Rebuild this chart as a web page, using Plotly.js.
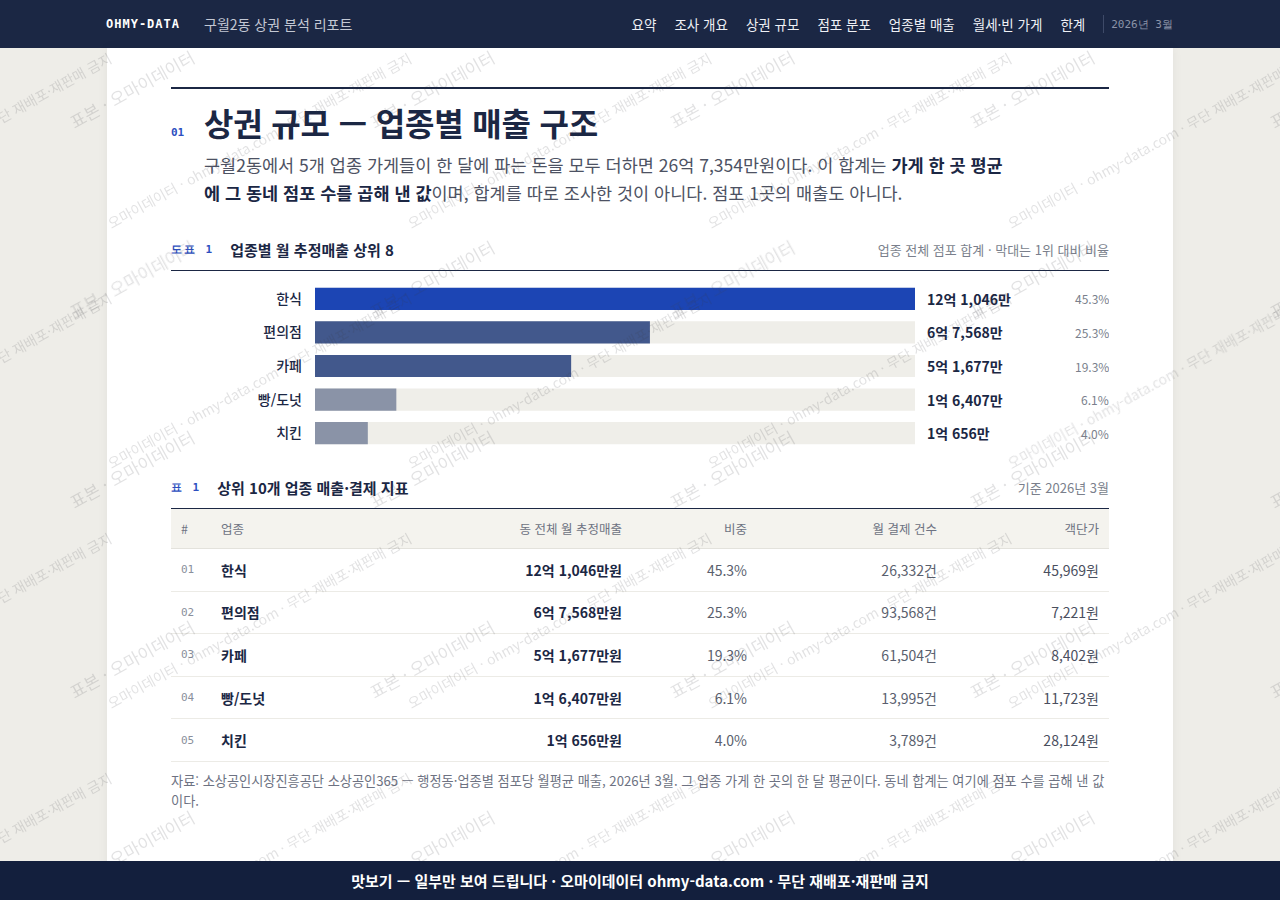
<!DOCTYPE html>
<html lang="ko">
<head>
<meta charset="utf-8">
<title>구월2동 상권 분석 리포트 — 상권 규모</title>
<script src="https://cdn.plot.ly/plotly-3.0.1.min.js"></script>
<style>
  * { box-sizing: border-box; }
  html, body { margin: 0; padding: 0; }
  body {
    background: #eeede8;
    font-family: "Noto Sans CJK KR", "Noto Sans", sans-serif;
    color: #1b2744;
    overflow: hidden;
  }
  .mono { font-family: "DejaVu Sans Mono", "Liberation Mono", monospace; }

  .nav { height: 48px; background: #1b2744; }
  .nav-inner {
    width: 1068px; margin: 0 auto; height: 48px;
    display: flex; align-items: center;
  }
  .brand { color: #fff; font-weight: bold; font-size: 12px; letter-spacing: 1px; }
  .report { color: #c3c8d4; font-size: 14px; margin-left: 24px; }
  .links { margin-left: auto; display: flex; align-items: center; }
  .links a { color: #eef0f5; font-size: 13.5px; text-decoration: none; margin-left: 18px; }
  .links .sep { width: 1px; height: 18px; background: #3e4a68; margin-left: 18px; }
  .links .month { color: #8c94a8; font-size: 11px; margin-left: 7px; margin-right: 1px; }

  .card {
    width: 1066px; margin: 0 auto; background: #fff;
    min-height: 852px; padding: 39px 64px 0 64px;
    box-shadow: 0 0 10px rgba(0,0,0,0.06);
  }
  .rule-top { height: 2px; background: #1b2744; }
  .head { display: flex; align-items: baseline; margin-top: 11px; }
  .head .num { color: #2d4fbf; font-size: 11px; font-weight: bold; width: 33px; }
  .head h1 { margin: 0; font-size: 32px; line-height: 44px; font-weight: bold; letter-spacing: -0.2px; color: #1b2744; }
  .lead {
    margin: 7px 0 0 33px; max-width: 805px;
    font-size: 17.5px; line-height: 28px; color: #4d5263;
  }
  .lead b { color: #1b2744; }

  .sec-head { display: flex; align-items: center; height: 20px; }
  .sec-head .tag { color: #2d4fbf; font-size: 11px; font-weight: bold; letter-spacing: 2px; }
  .sec-head .ttl { font-size: 15px; font-weight: bold; color: #1b2744; }
  .sec-head .note { margin-left: auto; font-size: 13px; color: #7a7f8c; }
  .fig-head { margin-top: 32px; }
  .fig-head .ttl { margin-left: 16px; }
  .rule { height: 1px; background: #1b2744; margin-top: 11px; }

  #chart { width: 938px; height: 187px; }

  .tbl-head { margin-top: 19px; }
  .tbl-head .ttl { margin-left: 16px; }
  table { width: 938px; border-collapse: collapse; margin-top: 11px; border-top: 1px solid #1b2744; }
  th {
    background: #f4f3ee; height: 40px; font-size: 12.5px; font-weight: normal;
    color: #6d7282; padding: 0 10px; border-bottom: 1px solid #e3e2dc;
  }
  td { height: 42.6px; padding: 0 10px; font-size: 14px; border-bottom: 1px solid #ecebe6; color: #5a5f6e; }
  .l { text-align: left; }
  .r { text-align: right; }
  td.idx { font-size: 11px; color: #8a8f9c; }
  td.name, td.sales { font-weight: bold; color: #1b2744; }
  td.price { color: #4a4f5e; }
  .source { font-size: 13.2px; line-height: 20px; color: #6d7282; margin-top: 9px; }

  .banner {
    position: fixed; left: 0; right: 0; bottom: 0; height: 39px;
    background: #131f3d; color: #fff; font-size: 15px; font-weight: bold;
    display: flex; align-items: center; justify-content: center; z-index: 20;
  }
  #wm { position: fixed; inset: 0; pointer-events: none; z-index: 10; overflow: hidden; }
  #wm span {
    position: absolute; white-space: nowrap; transform-origin: 0 100%;
    transform: rotate(-29deg); color: rgba(60,60,70,0.15); line-height: 1;
  }
</style>
</head>
<body>

<div class="nav">
  <div class="nav-inner">
    <span class="brand mono">OHMY-DATA</span>
    <span class="report">구월2동 상권 분석 리포트</span>
    <div class="links" id="links"></div>
  </div>
</div>

<div class="card">
  <div class="rule-top"></div>
  <div class="head">
    <span class="num mono">01</span>
    <h1>상권 규모 — 업종별 매출 구조</h1>
  </div>
  <p class="lead">구월2동에서 5개 업종 가게들이 한 달에 파는 돈을 모두 더하면 26억 7,354만원이다. 이 합계는 <b>가게 한 곳 평균에 그 동네 점포 수를 곱해 낸 값</b>이며, 합계를 따로 조사한 것이 아니다. 점포 1곳의 매출도 아니다.</p>

  <div class="sec-head fig-head">
    <span class="tag mono">도표 1</span>
    <span class="ttl">업종별 월 추정매출 상위 8</span>
    <span class="note">업종 전체 점포 합계 · 막대는 1위 대비 비율</span>
  </div>
  <div class="rule"></div>
  <div id="chart"></div>

  <div class="sec-head tbl-head">
    <span class="tag mono">표 1</span>
    <span class="ttl">상위 10개 업종 매출·결제 지표</span>
    <span class="note">기준 2026년 3월</span>
  </div>
  <table>
    <thead>
      <tr>
        <th class="l" style="width:40px">#</th>
        <th class="l" style="width:180px">업종</th>
        <th class="r" style="width:241px">동 전체 월 추정매출</th>
        <th class="r" style="width:125px">비중</th>
        <th class="r" style="width:190px">월 결제 건수</th>
        <th class="r" style="width:162px">객단가</th>
      </tr>
    </thead>
    <tbody id="tbody"></tbody>
  </table>
  <div class="source">자료: 소상공인시장진흥공단 소상공인365 — 행정동·업종별 점포당 월평균 매출, 2026년 3월. 그 업종 가게 한 곳의 한 달 평균이다. 동네 합계는 여기에 점포 수를 곱해 낸 값이다.</div>
</div>

<div class="banner">맛보기 — 일부만 보여 드립니다 · 오마이데이터 ohmy-data.com · 무단 재배포·재판매 금지</div>
<div id="wm"></div>

<script>
// 업종별 데이터 (단위: 만원)
var categories = ['한식', '편의점', '카페', '빵/도넛', '치킨'];
var sales = [121046, 67568, 51677, 16407, 10656];
var shares = [45.3, 25.3, 19.3, 6.1, 4.0];
var payments = [26332, 93568, 61504, 13995, 3789];
var unitPrice = [45969, 7221, 8402, 11723, 28124];

var navLinks = ['요약', '조사 개요', '상권 규모', '점포 분포', '업종별 매출', '월세·빈 가게', '한계'];

// 막대 색 (스타일)
var barColors = ['#1c45b4', '#42588c', '#42588c', '#8a93a7', '#8a93a7'];

function fmtMan(v) {
    var eok = Math.floor(v / 10000);
    var man = v % 10000;
    return eok + '억 ' + man.toLocaleString('en-US') + '만';
}

// nav
var links = document.getElementById('links');
navLinks.forEach(function (t) {
    var a = document.createElement('a');
    a.href = '#';
    a.textContent = t;
    links.appendChild(a);
});
links.insertAdjacentHTML('beforeend', '<span class="sep"></span><span class="month mono">2026년 3월</span>');

// chart
var maxVal = Math.max.apply(null, sales);

var track = {
    type: 'bar', orientation: 'h',
    y: categories,
    x: categories.map(function () { return maxVal; }),
    marker: { color: '#efeee9' },
    hoverinfo: 'skip'
};

var bars = {
    type: 'bar', orientation: 'h',
    y: categories,
    x: sales,
    marker: { color: barColors },
    hoverinfo: 'skip'
};

var annotations = [];
categories.forEach(function (c, i) {
    annotations.push({
        x: maxVal, y: c, xref: 'x', yref: 'y',
        xanchor: 'left', xshift: 10, showarrow: false,
        text: '<b>' + fmtMan(sales[i]) + '</b>',
        font: { size: 14, color: '#1b2744', family: 'Noto Sans CJK KR' }
    });
    annotations.push({
        x: maxVal, y: c, xref: 'x', yref: 'y',
        xanchor: 'right', xshift: 196, showarrow: false,
        text: shares[i].toFixed(1) + '%',
        font: { size: 12, color: '#7a7f8c', family: 'Noto Sans CJK KR' }
    });
});

var layout = {
    width: 938, height: 187,
    margin: { l: 144, r: 194, t: 11, b: 8 },
    paper_bgcolor: 'rgba(0,0,0,0)',
    plot_bgcolor: 'rgba(0,0,0,0)',
    barmode: 'overlay',
    bargap: 0.34,
    showlegend: false,
    font: { family: 'Noto Sans CJK KR', color: '#1b2744' },
    xaxis: { range: [0, maxVal], visible: false, fixedrange: true },
    yaxis: {
        autorange: 'reversed',
        showgrid: false, zeroline: false, showline: false,
        ticks: '', ticklabelstandoff: 12,
        tickfont: { size: 14, color: '#1b2744', weight: 500 },
        fixedrange: true
    },
    annotations: annotations
};

Plotly.newPlot('chart', [track, bars], layout, { staticPlot: true, displayModeBar: false });

// table
var tbody = document.getElementById('tbody');
categories.forEach(function (c, i) {
    var tr = document.createElement('tr');
    tr.innerHTML =
        '<td class="l idx mono">' + String(i + 1).padStart(2, '0') + '</td>' +
        '<td class="l name">' + c + '</td>' +
        '<td class="r sales">' + fmtMan(sales[i]) + '원</td>' +
        '<td class="r">' + shares[i].toFixed(1) + '%</td>' +
        '<td class="r">' + payments[i].toLocaleString('en-US') + '건</td>' +
        '<td class="r price">' + unitPrice[i].toLocaleString('en-US') + '원</td>';
    tbody.appendChild(tr);
});

// watermark
var wm = document.getElementById('wm');
function stamp(text, x, y, size) {
    var s = document.createElement('span');
    s.textContent = text;
    s.style.left = x + 'px';
    s.style.top = (y - size) + 'px';
    s.style.fontSize = size + 'px';
    wm.appendChild(s);
}
for (var c = -1; c < 5; c++) {
    for (var r = -1; r < 6; r++) {
        stamp('표본 · 오마이데이터', 75 + 300 * c, 130 + 190 * r, 17);
    }
    for (var r2 = -1; r2 < 5; r2++) {
        stamp('오마이데이터 · ohmy-data.com · 무단 재배포·재판매 금지', 112 + 300 * c, 230 + 240 * r2, 14);
    }
}
</script>
</body>
</html>
